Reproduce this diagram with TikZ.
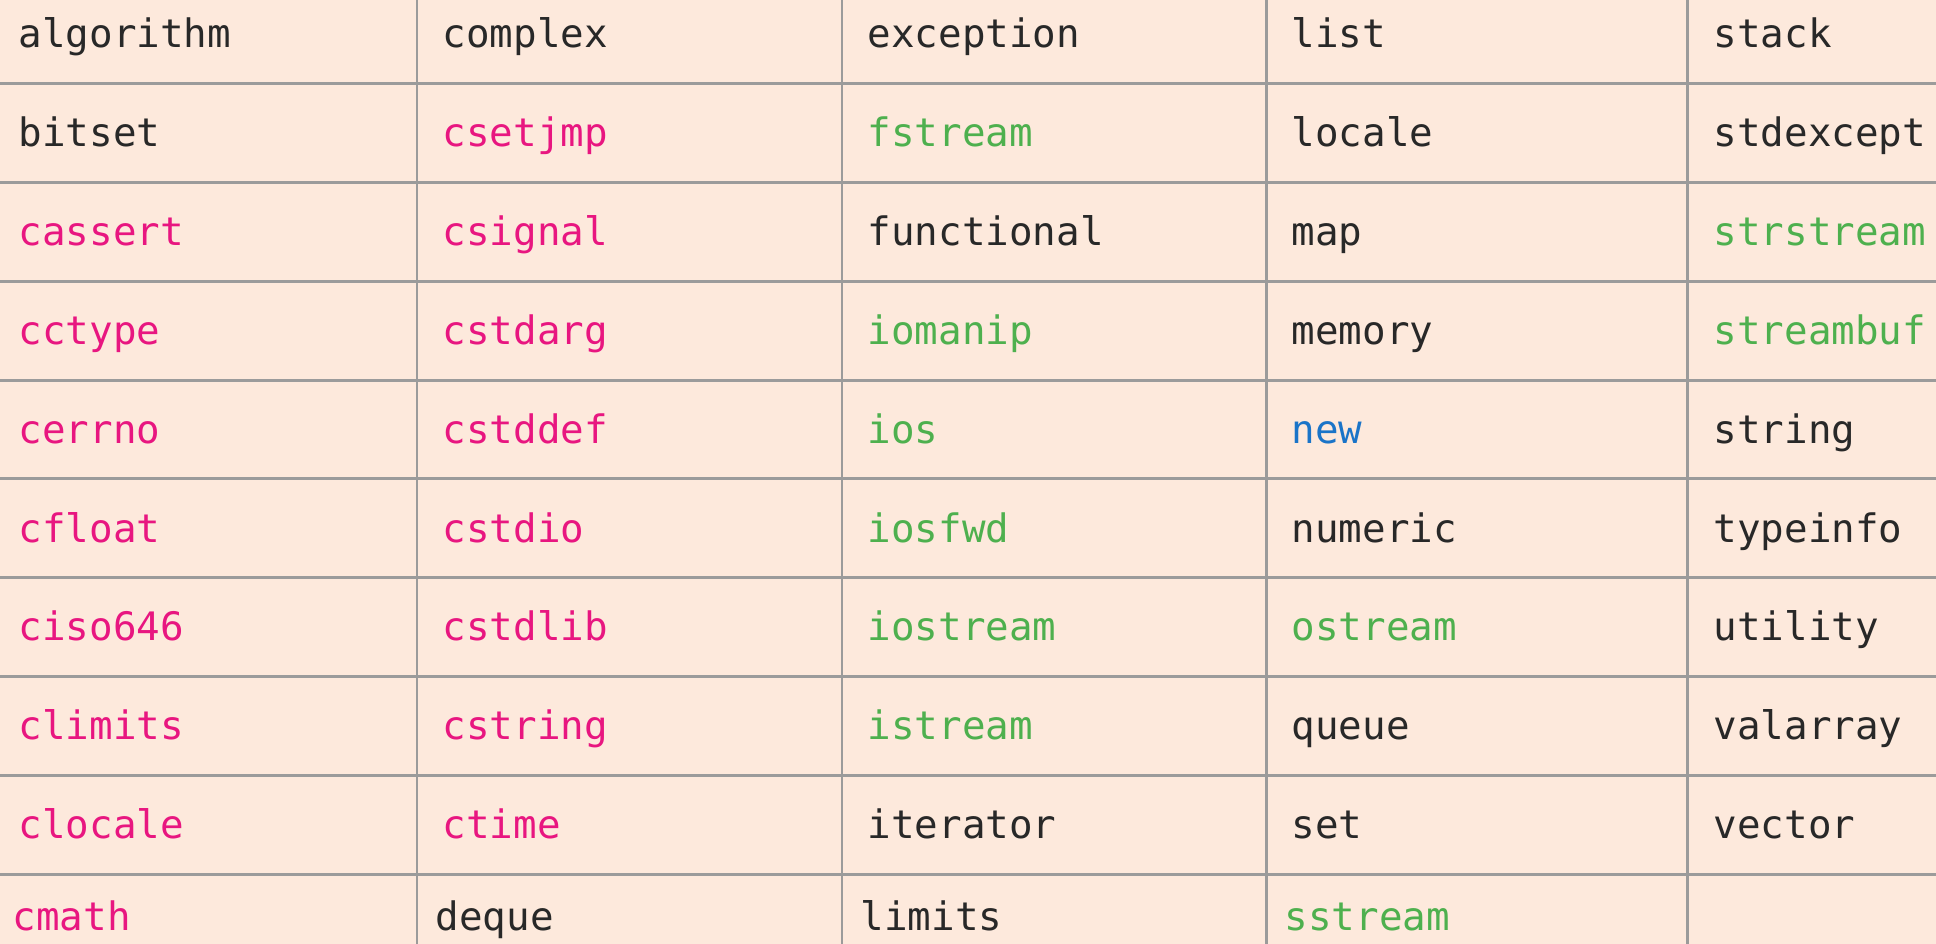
\documentclass[tikz,border=0pt]{standalone}
\usepackage{fontspec}
\setmonofont{DejaVu Sans Mono}
\usepackage{tikz}
\usepackage{xcolor}
\definecolor{peach}{RGB}{253,233,220}
\definecolor{rule}{RGB}{155,155,155}
\definecolor{cpink}{RGB}{232,22,128}
\definecolor{cgreen}{RGB}{78,176,78}
\definecolor{cblue}{RGB}{26,116,200}
\definecolor{cblack}{RGB}{40,40,40}
\tikzset{
  hdr/.style={anchor=base west,inner sep=0pt,text=cblack,font=\ttfamily\fontsize{11.15}{13}\selectfont},
  chdr/.style={hdr,text=cpink},
  iohdr/.style={hdr,text=cgreen},
  kwhdr/.style={hdr,text=cblue},
  grid/.style={draw=rule,line width=0.85pt}
}

\begin{document}
\begin{tikzpicture}[scale = 1]
\useasboundingbox (0,0) rectangle (19.36,-9.44);
\fill[peach] (0,0) rectangle (19.36,-9.44);
\draw[grid] (4.17,0)--(4.17,-9.44);
\draw[grid] (8.42,0)--(8.42,-9.44);
\draw[grid] (12.66,0)--(12.66,-9.44);
\draw[grid] (16.87,0)--(16.87,-9.44);
\draw[grid] (0,-0.837)--(19.36,-0.837);
\draw[grid] (0,-1.825)--(19.36,-1.825);
\draw[grid] (0,-2.813)--(19.36,-2.813);
\draw[grid] (0,-3.801)--(19.36,-3.801);
\draw[grid] (0,-4.789)--(19.36,-4.789);
\draw[grid] (0,-5.777)--(19.36,-5.777);
\draw[grid] (0,-6.765)--(19.36,-6.765);
\draw[grid] (0,-7.753)--(19.36,-7.753);
\draw[grid] (0,-8.741)--(19.36,-8.741);
% column 1
\node[hdr] (algorithm) at (0.18,-0.48) {algorithm};
\node[hdr] (bitset) at (0.18,-1.468) {bitset};
\node[chdr] (cassert) at (0.18,-2.456) {cassert};
\node[chdr] (cctype) at (0.18,-3.444) {cctype};
\node[chdr] (cerrno) at (0.18,-4.432) {cerrno};
\node[chdr] (cfloat) at (0.18,-5.42) {cfloat};
\node[chdr] (ciso646) at (0.18,-6.408) {ciso646};
\node[chdr] (climits) at (0.18,-7.396) {climits};
\node[chdr] (clocale) at (0.18,-8.384) {clocale};
\node[chdr] (cmath) at (0.12,-9.30) {cmath};
% column 2
\node[hdr] (complex) at (4.42,-0.48) {complex};
\node[chdr] (csetjmp) at (4.42,-1.468) {csetjmp};
\node[chdr] (csignal) at (4.42,-2.456) {csignal};
\node[chdr] (cstdarg) at (4.42,-3.444) {cstdarg};
\node[chdr] (cstddef) at (4.42,-4.432) {cstddef};
\node[chdr] (cstdio) at (4.42,-5.42) {cstdio};
\node[chdr] (cstdlib) at (4.42,-6.408) {cstdlib};
\node[chdr] (cstring) at (4.42,-7.396) {cstring};
\node[chdr] (ctime) at (4.42,-8.384) {ctime};
\node[hdr] (deque) at (4.35,-9.30) {deque};
% column 3
\node[hdr] (exception) at (8.67,-0.48) {exception};
\node[iohdr] (fstream) at (8.67,-1.468) {fstream};
\node[hdr] (functional) at (8.67,-2.456) {functional};
\node[iohdr] (iomanip) at (8.67,-3.444) {iomanip};
\node[iohdr] (ios) at (8.67,-4.432) {ios};
\node[iohdr] (iosfwd) at (8.67,-5.42) {iosfwd};
\node[iohdr] (iostream) at (8.67,-6.408) {iostream};
\node[iohdr] (istream) at (8.67,-7.396) {istream};
\node[hdr] (iterator) at (8.67,-8.384) {iterator};
\node[hdr] (limits) at (8.60,-9.30) {limits};
% column 4
\node[hdr] (list) at (12.91,-0.48) {list};
\node[hdr] (locale) at (12.91,-1.468) {locale};
\node[hdr] (map) at (12.91,-2.456) {map};
\node[hdr] (memory) at (12.91,-3.444) {memory};
\node[kwhdr] (new) at (12.91,-4.432) {new};
\node[hdr] (numeric) at (12.91,-5.42) {numeric};
\node[iohdr] (ostream) at (12.91,-6.408) {ostream};
\node[hdr] (queue) at (12.91,-7.396) {queue};
\node[hdr] (set) at (12.91,-8.384) {set};
\node[iohdr] (sstream) at (12.84,-9.30) {sstream};
% column 5
\node[hdr] (stack) at (17.13,-0.48) {stack};
\node[hdr] (stdexcept) at (17.13,-1.468) {stdexcept};
\node[iohdr] (strstream) at (17.13,-2.456) {strstream};
\node[iohdr] (streambuf) at (17.13,-3.444) {streambuf};
\node[hdr] (string) at (17.13,-4.432) {string};
\node[hdr] (typeinfo) at (17.13,-5.42) {typeinfo};
\node[hdr] (utility) at (17.13,-6.408) {utility};
\node[hdr] (valarray) at (17.13,-7.396) {valarray};
\node[hdr] (vector) at (17.13,-8.384) {vector};
\end{tikzpicture}
\end{document}
